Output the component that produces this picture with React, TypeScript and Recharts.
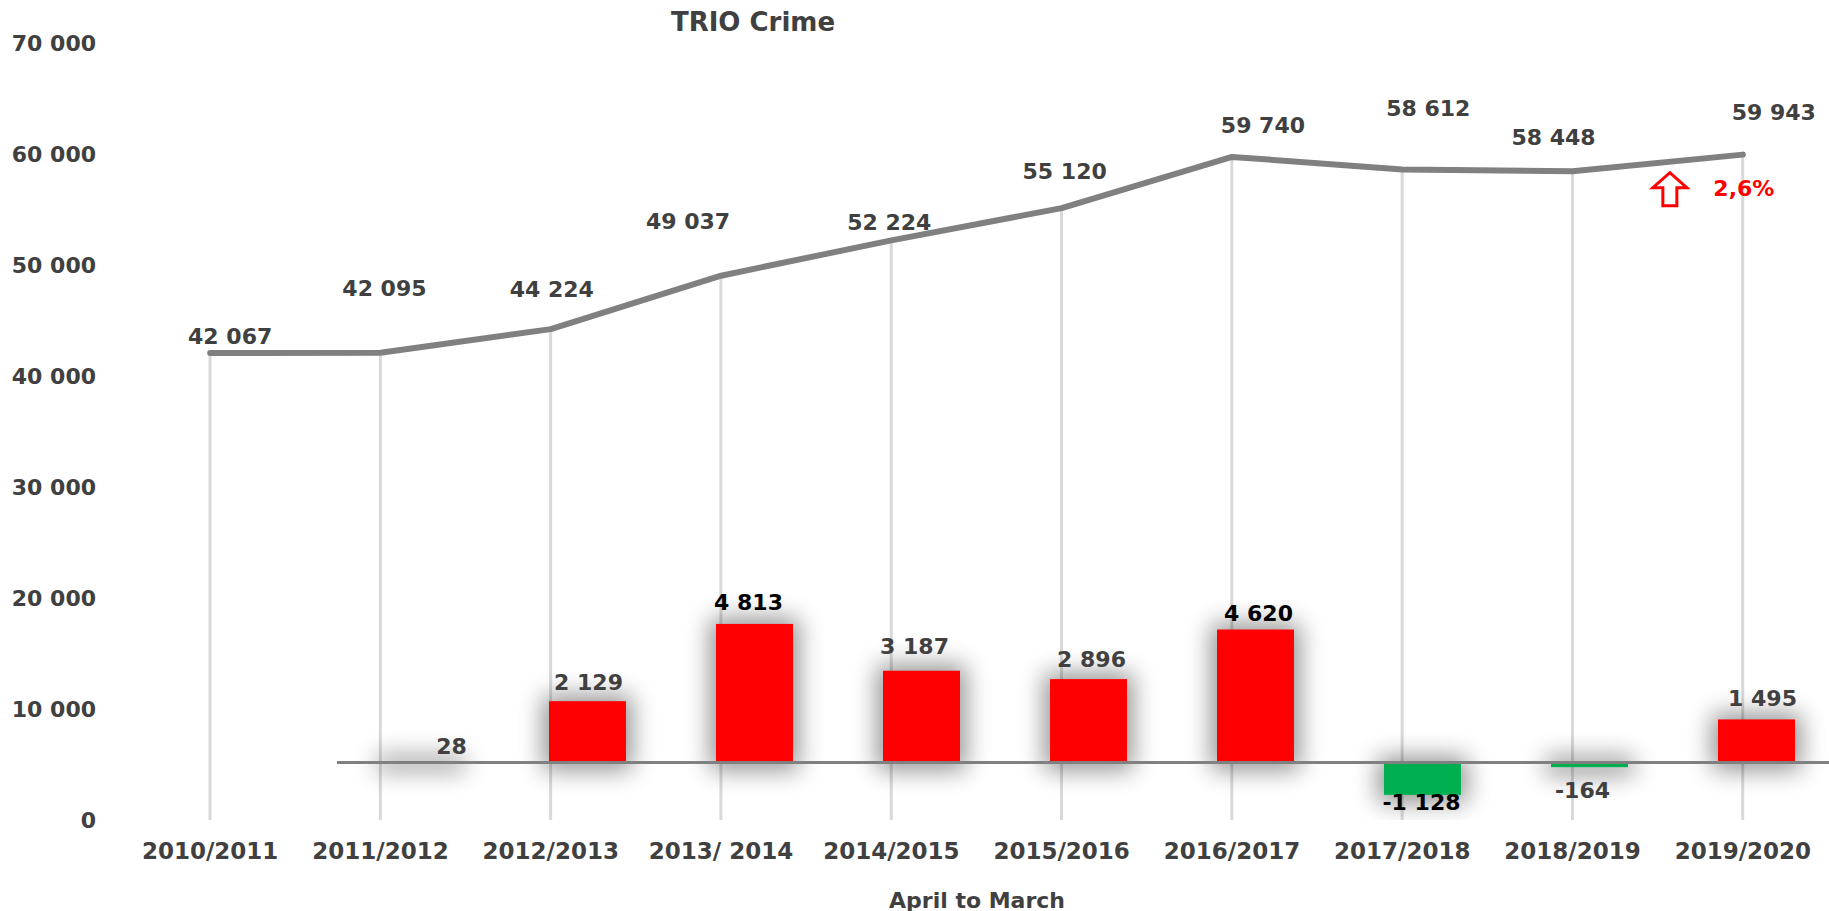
import React from 'react'
import { Bar, ComposedChart, LabelList, Line, ReferenceLine, XAxis, YAxis } from 'recharts'

const categories = ['2010/2011', '2011/2012', '2012/2013', '2013/ 2014', '2014/2015', '2015/2016', '2016/2017', '2017/2018', '2018/2019', '2019/2020']
const totals = [42067, 42095, 44224, 49037, 52224, 55120, 59740, 58612, 58448, 59943]
const changes = [28, 2129, 4813, 3187, 2896, 4620, -1128, -164, 1495]
const yTicks = [0, 10000, 20000, 30000, 40000, 50000, 60000, 70000]

// label placement, hand-tuned like the original excel chart
const lineLabelOffsets = [[20, -17], [4, -64], [1, -40], [-33, -54], [-2, -18], [3, -37], [31, -31], [26, -61], [-19, -34], [31, -42]]
const barLabelOffsets = [[31, -15], [1, -19], [-6, -21], [-7, -24], [3, -20], [3, -16], [-1, 8], [-7, 23], [6, -21]]
const barLabelColors = ['#404040', '#404040', '#000000', '#404040', '#404040', '#000000', '#000000', '#404040', '#404040']

const FONT = '"DejaVu Sans", Verdana, sans-serif'
const TEXT = '#404040'

const fmt = (v: number) => (v < 0 ? '-' : '') + Math.abs(Math.round(v)).toString().replace(/\B(?=(\d{3})+(?!\d))/g, ' ')

const lineData = categories.map((cat, i) => ({ cat, total: totals[i] }))
const barData = categories.slice(1).map((cat, i) => ({ cat, change: changes[i] }))

const lastPct = ((totals[totals.length - 1] - totals[totals.length - 2]) / totals[totals.length - 2]) * 100

function pick(props: any) {
  const vb = props.viewBox || {}
  return {
    x: props.x ?? vb.x,
    y: props.y ?? vb.y,
    width: props.width ?? vb.width ?? 0,
    height: props.height ?? vb.height ?? 0,
  }
}

function DropLine(props: any) {
  const { x, y, width, height } = props
  const cx = x + width / 2
  return <line x1={cx} y1={y} x2={cx} y2={y + height} stroke="#D9D9D9" strokeWidth={3} />
}

function ChangeBar(props: any) {
  const { x, y, width, height, payload } = props
  const top = Math.min(y, y + height)
  const h = Math.max(Math.abs(height), 1)
  const fill = payload.change >= 0 ? '#FF0000' : '#00B050'
  return (
    <g>
      <rect x={x - 6} y={top - 6} width={width + 12} height={h + 14} fill="#000000" opacity={0.42} filter="url(#barGlow)" />
      <rect x={x} y={top} width={width} height={h} fill={fill} />
    </g>
  )
}

function LineLabel(props: any) {
  const { x, y } = pick(props)
  const i = props.index
  const [dx, dy] = lineLabelOffsets[i] || [0, -20]
  const isLast = i === totals.length - 1
  const ax = x - 73
  const ay = y + 35
  return (
    <g>
      <text x={x + dx} y={y + dy} textAnchor="middle" dominantBaseline="central" fill={TEXT} fontFamily={FONT} fontWeight={700} fontSize={22}>
        {fmt(props.value)}
      </text>
      {isLast && (
        <g>
          <path
            d={`M ${ax} ${ay - 17} L ${ax + 17} ${ay - 2} L ${ax + 7} ${ay - 2} L ${ax + 7} ${ay + 16} L ${ax - 7} ${ay + 16} L ${ax - 7} ${ay - 2} L ${ax - 17} ${ay - 2} Z`}
            fill="#FFFFFF"
            stroke="#FF0000"
            strokeWidth={3}
            strokeLinejoin="miter"
          />
          <text x={x + 1} y={y + 34} textAnchor="middle" dominantBaseline="central" fill="#FF0000" fontFamily={FONT} fontWeight={700} fontSize={22}>
            {lastPct.toFixed(1).replace('.', ',') + '%'}
          </text>
        </g>
      )}
    </g>
  )
}

function BarLabel(props: any) {
  const { x, y, width, height } = pick(props)
  const i = props.index
  const v = props.value
  const [dx, dy] = barLabelOffsets[i] || [0, -20]
  const top = Math.min(y, y + height)
  const bottom = Math.max(y, y + height)
  const cy = v >= 0 ? top + dy : bottom + dy
  return (
    <text x={x + width / 2 + dx} y={cy} textAnchor="middle" dominantBaseline="central" fill={barLabelColors[i]} fontFamily={FONT} fontWeight={700} fontSize={22}>
      {fmt(v)}
    </text>
  )
}

const tickStyle = { fill: TEXT, fontFamily: FONT, fontWeight: 700, fontSize: 22 }
const xTickStyle = { ...tickStyle, fontSize: 23 }

export default function App() {
  return (
    <div style={{ position: 'absolute', left: 0, top: 0, width: 1829, height: 911, overflow: 'hidden', background: '#fff' }}>
      <svg width={0} height={0} style={{ position: 'absolute' }}>
        <defs>
          <filter id="barGlow" filterUnits="userSpaceOnUse" x={0} y={0} width={2000} height={1000}>
            <feGaussianBlur stdDeviation={12} />
          </filter>
        </defs>
      </svg>

      <div style={{ position: 'absolute', left: 0, top: 0 }}>
        <ComposedChart width={1829} height={911} data={lineData} margin={{ top: 43, right: 1, bottom: 0, left: 0 }}>
          <XAxis dataKey="cat" axisLine={false} tickLine={false} tickSize={0} tickMargin={23} height={91} tick={xTickStyle} interval={0} />
          <YAxis
            domain={[0, 70000]}
            ticks={yTicks}
            axisLine={false}
            tickLine={false}
            tickSize={0}
            tickMargin={29}
            width={125}
            tick={tickStyle}
            tickFormatter={fmt}
          />
          <Bar dataKey="total" shape={<DropLine />} isAnimationActive={false} />
          <Line
            type="linear"
            dataKey="total"
            stroke="#808080"
            strokeWidth={6}
            strokeLinecap="round"
            strokeLinejoin="round"
            dot={false}
            activeDot={false}
            isAnimationActive={false}
          >
            <LabelList dataKey="total" content={<LineLabel />} />
          </Line>
        </ComposedChart>
      </div>

      <div style={{ position: 'absolute', left: 0, top: 0 }}>
        <ComposedChart width={1900} height={911} data={barData} margin={{ top: 43, right: 60, bottom: 91, left: 337 }}>
          <XAxis dataKey="cat" hide />
          <YAxis domain={[-2000, 25000]} allowDataOverflow hide />
          <Bar dataKey="change" barSize={77} shape={<ChangeBar />} isAnimationActive={false}>
            <LabelList dataKey="change" content={<BarLabel />} />
          </Bar>
          <ReferenceLine y={0} stroke="#808080" strokeWidth={3} />
        </ComposedChart>
      </div>

      <div style={{ position: 'absolute', left: 753, top: 22, transform: 'translate(-50%, -50%)', fontFamily: FONT, fontWeight: 700, fontSize: 26, color: TEXT, whiteSpace: 'nowrap' }}>
        TRIO Crime
      </div>
      <div style={{ position: 'absolute', left: 977, top: 900, transform: 'translate(-50%, -50%)', fontFamily: FONT, fontWeight: 700, fontSize: 22, color: TEXT, whiteSpace: 'nowrap' }}>
        April to March
      </div>
    </div>
  )
}
